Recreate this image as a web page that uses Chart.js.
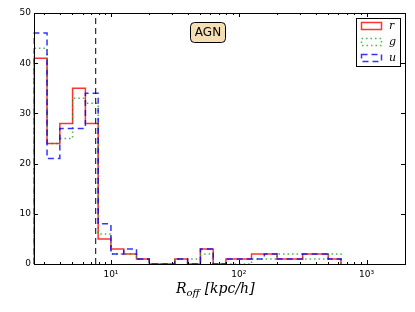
<!DOCTYPE html>
<html>
<head>
<meta charset="utf-8">
<script src="https://cdn.jsdelivr.net/npm/chart.js@4.4.0/dist/chart.umd.min.js"></script>
<style>
  html, body { margin: 0; padding: 0; background: #fff; }
  #wrap { width: 415px; height: 312px; position: relative; }
</style>
</head>
<body>
<div id="wrap"><canvas id="c" width="415" height="312"></canvas></div>
<script>
// bin edges (0.1 dex wide), kpc/h
const binEdges = [2.512, 3.162, 3.981, 5.012, 6.310, 7.943, 10, 12.59, 15.85, 19.95,
  25.12, 31.62, 39.81, 50.12, 63.10, 79.43, 100, 125.9, 158.5, 199.5,
  251.2, 316.2, 398.1, 501.2, 631.0];

// counts per bin
const countsR = [41, 24, 28, 35, 28, 5, 3, 2, 1, 0, 0, 1, 0, 3, 0, 1, 1, 2, 2, 1, 1, 2, 2, 1];
const countsG = [43, 24, 25, 33, 32, 6, 2, 2, 1, 0, 0, 1, 1, 2, 0, 0, 0, 1, 1, 2, 2, 1, 1, 2];
const countsU = [46, 21, 27, 27, 34, 8, 2, 3, 1, 0, 0, 1, 0, 3, 0, 1, 1, 1, 2, 1, 1, 2, 2, 1];

const cutLine = 7.6;           // vertical dashed marker
const xMin = 2.5, xMax = 2000;
const yTicks = [0, 10, 20, 30, 40, 50];

// histogram outline: up at first edge, across each bin, down at last edge
function stepPoints(counts) {
  const pts = [{ x: binEdges[0], y: 0 }, { x: binEdges[0], y: counts[0] }];
  counts.forEach((c, i) => {
    pts.push({ x: binEdges[i + 1], y: c });
    if (i + 1 < counts.length) pts.push({ x: binEdges[i + 1], y: counts[i + 1] });
  });
  pts.push({ x: binEdges[binEdges.length - 1], y: 0 });
  return pts;
}

function sup(n) {
  return '10' + ({ 0: '⁰', 1: '¹', 2: '²', 3: '³' })[n];
}

const frame = {
  id: 'frame',
  afterDatasetsDraw(chart) {
    const { ctx, chartArea: a, scales } = chart;
    const x = scales.x, y = scales.y;
    ctx.save();
    ctx.strokeStyle = '#000';
    ctx.lineWidth = 1;
    ctx.strokeRect(a.left + 0.5, a.top + 0.5, a.right - a.left, a.bottom - a.top);

    ctx.beginPath();
    // log ticks, major + minor, inward on top and bottom
    for (let d = 0; d <= 3; d++) {
      for (let m = 1; m <= 9; m++) {
        const v = m * Math.pow(10, d);
        if (v < xMin || v > xMax) continue;
        const px = Math.round(x.getPixelForValue(v)) + 0.5;
        const len = m === 1 ? 4 : 2;
        ctx.moveTo(px, a.bottom); ctx.lineTo(px, a.bottom - len);
        ctx.moveTo(px, a.top); ctx.lineTo(px, a.top + len);
      }
    }
    yTicks.forEach(v => {
      const py = Math.round(y.getPixelForValue(v)) + 0.5;
      ctx.moveTo(a.left, py); ctx.lineTo(a.left + 4, py);
      ctx.moveTo(a.right, py); ctx.lineTo(a.right - 4, py);
    });
    ctx.stroke();

    // AGN box
    ctx.fillStyle = '#f5deb3';
    ctx.beginPath();
    ctx.roundRect(190.5, 22.5, 35, 20, 4);
    ctx.fill();
    ctx.stroke();
    ctx.fillStyle = '#000';
    ctx.font = '12px "DejaVu Sans"';
    ctx.textAlign = 'center';
    ctx.textBaseline = 'middle';
    ctx.fillText('AGN', 208, 33);

    // legend
    ctx.fillStyle = '#fff';
    ctx.fillRect(356.5, 18.5, 44, 48);
    ctx.strokeStyle = '#000';
    ctx.strokeRect(356.5, 18.5, 44, 48);
    const rows = [26, 42, 58];
    const labels = ['r', 'g', 'u'];
    const sets = [chart.data.datasets[2], chart.data.datasets[1], chart.data.datasets[0]];
    sets.forEach((ds, i) => {
      ctx.save();
      ctx.strokeStyle = ds.borderColor;
      ctx.lineWidth = ds.borderWidth;
      ctx.setLineDash(ds.borderDash || []);
      ctx.strokeRect(361.5, rows[i] - 3.5, 20, 7);
      ctx.restore();
      ctx.fillStyle = '#000';
      ctx.font = 'italic 11px "DejaVu Serif"';
      ctx.textAlign = 'left';
      ctx.fillText(labels[i], 389, rows[i]);
    });

    // axis title R_off [kpc/h]
    ctx.textBaseline = 'alphabetic';
    ctx.textAlign = 'left';
    let tx = 176;
    const ty = 293;
    ctx.font = 'italic 14px "DejaVu Serif"';
    ctx.fillText('R', tx, ty);
    tx += ctx.measureText('R').width;
    ctx.font = 'italic 10px "DejaVu Serif"';
    ctx.fillText('off', tx, ty + 3);
    tx += ctx.measureText('off').width + 5;
    ctx.font = 'italic 14px "DejaVu Serif"';
    ctx.fillText('[kpc/h]', tx, ty);
    ctx.restore();
  }
};

const ctx = document.getElementById('c').getContext('2d');
new Chart(ctx, {
  type: 'line',
  data: {
    datasets: [
      {
        label: 'u', data: stepPoints(countsU),
        borderColor: 'rgba(0,0,255,0.8)', borderWidth: 1.5, borderDash: [6, 4],
        pointRadius: 0, fill: false, order: 1, clip: 3
      },
      {
        label: 'g', data: stepPoints(countsG),
        borderColor: 'rgba(0,150,0,0.7)', borderWidth: 1.5, borderDash: [1.5, 3],
        pointRadius: 0, fill: false, order: 2, clip: 3
      },
      {
        label: 'r', data: stepPoints(countsR),
        borderColor: 'rgba(255,0,0,0.8)', borderWidth: 1.5,
        pointRadius: 0, fill: false, order: 3, clip: 3
      },
      {
        label: 'cut', data: [{ x: cutLine, y: 0 }, { x: cutLine, y: 50 }],
        borderColor: '#000', borderWidth: 1, borderDash: [6, 4],
        pointRadius: 0, fill: false, order: 0
      }
    ]
  },
  options: {
    responsive: false,
    animation: false,
    events: [],
    layout: { padding: { top: 13, right: 10, left: 0, bottom: 0 } },
    plugins: { legend: { display: false }, tooltip: { enabled: false } },
    scales: {
      x: {
        type: 'logarithmic', min: xMin, max: xMax,
        grid: { display: false, drawTicks: false },
        border: { display: false },
        afterFit: (s) => { s.height = 48; },
        ticks: {
          autoSkip: false, maxRotation: 0, padding: 5,
          color: '#000', font: { family: 'DejaVu Sans', size: 9 },
          callback: (v) => {
            const l = Math.log10(v);
            return Math.abs(l - Math.round(l)) < 1e-6 && v >= 10 ? sup(Math.round(l)) : '';
          }
        }
      },
      y: {
        min: 0, max: 50,
        grid: { display: false, drawTicks: false },
        border: { display: false },
        afterFit: (s) => { s.width = 34; },
        ticks: {
          stepSize: 10, padding: 3,
          color: '#000', font: { family: 'DejaVu Sans', size: 9 }
        }
      }
    }
  },
  plugins: [frame]
});
</script>
</body>
</html>
